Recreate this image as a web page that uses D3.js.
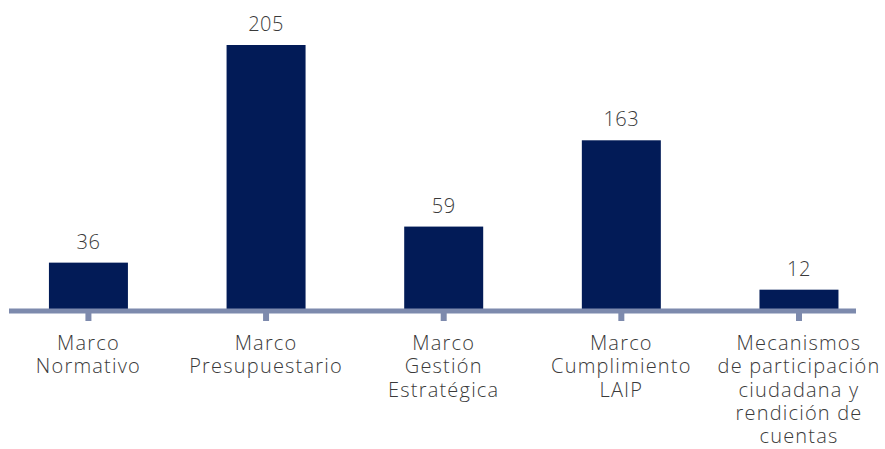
<!DOCTYPE html>
<html lang="es">
<head>
<meta charset="UTF-8">
<script src="https://d3js.org/d3.v7.min.js"></script>
<title>Marcos</title>
<style>
  body { margin: 0; background: #fff; }
  text { font-family: "Open Sans", "Noto Sans", sans-serif; font-weight: 300; fill: #3a3a3a; }
</style>
</head>
<body>
<svg width="885" height="449"></svg>
<script>
// categories, printed values and the bar lengths as drawn in the picture
const categories = ["Marco Normativo", "Marco Presupuestario", "Marco Gestión Estratégica",
                    "Marco Cumplimiento LAIP", "Mecanismos de participación ciudadana y rendición de cuentas"];
const categoryLines = [
  ["Marco", "Normativo"],
  ["Marco", "Presupuestario"],
  ["Marco", "Gestión", "Estratégica"],
  ["Marco", "Cumplimiento", "LAIP"],
  ["Mecanismos", "de participación", "ciudadana y", "rendición de", "cuentas"]
];
const valueLabels = [36, 205, 59, 163, 12];
const barValues = [36, 205, 64, 131, 15];

const svg = d3.select("svg");
const baseY = 309;

const x = d3.scaleBand()
    .domain(categories)
    .range([-0.4, 887.8])
    .paddingInner(0.5553)
    .paddingOuter(0.2777);

const y = d3.scaleLinear()
    .domain([0, 205])
    .range([baseY, 45]);

// bars
svg.append("g")
  .selectAll("rect")
  .data(categories)
  .enter().append("rect")
    .attr("x", d => x(d))
    .attr("width", x.bandwidth())
    .attr("y", (d, i) => y(barValues[i]))
    .attr("height", (d, i) => baseY - y(barValues[i]))
    .attr("fill", "#021b57");

// value labels
svg.append("g")
  .selectAll("text")
  .data(categories)
  .enter().append("text")
    .attr("x", d => x(d) + x.bandwidth() / 2)
    .attr("y", (d, i) => y(barValues[i]) - 14)
    .attr("text-anchor", "middle")
    .style("font-size", "20px")
    .style("letter-spacing", "0.5px")
    .text((d, i) => valueLabels[i]);

// axis
const axis = svg.append("g")
    .attr("transform", `translate(0,${baseY + 2})`)
    .call(d3.axisBottom(x).tickSize(10).tickSizeOuter(0).tickFormat(""));
axis.select(".domain").remove();
axis.selectAll(".tick line").attr("stroke", "#7d8aad").attr("stroke-width", 6);
axis.insert("line", ":first-child")
    .attr("x1", 9).attr("x2", 856)
    .attr("stroke", "#7d8aad").attr("stroke-width", 5);

// category labels, one text per line
const labels = svg.append("g")
  .selectAll("g")
  .data(categories)
  .enter().append("g")
    .attr("transform", d => `translate(${x(d) + x.bandwidth() / 2},350)`);

labels.each(function(d, i) {
  d3.select(this).selectAll("text")
    .data(categoryLines[i])
    .enter().append("text")
      .attr("text-anchor", "middle")
      .attr("y", (l, j) => j * 23.3)
      .style("font-size", "20px")
      .style("letter-spacing", "1.2px")
      .text(l => l);
});
</script>
</body>
</html>
